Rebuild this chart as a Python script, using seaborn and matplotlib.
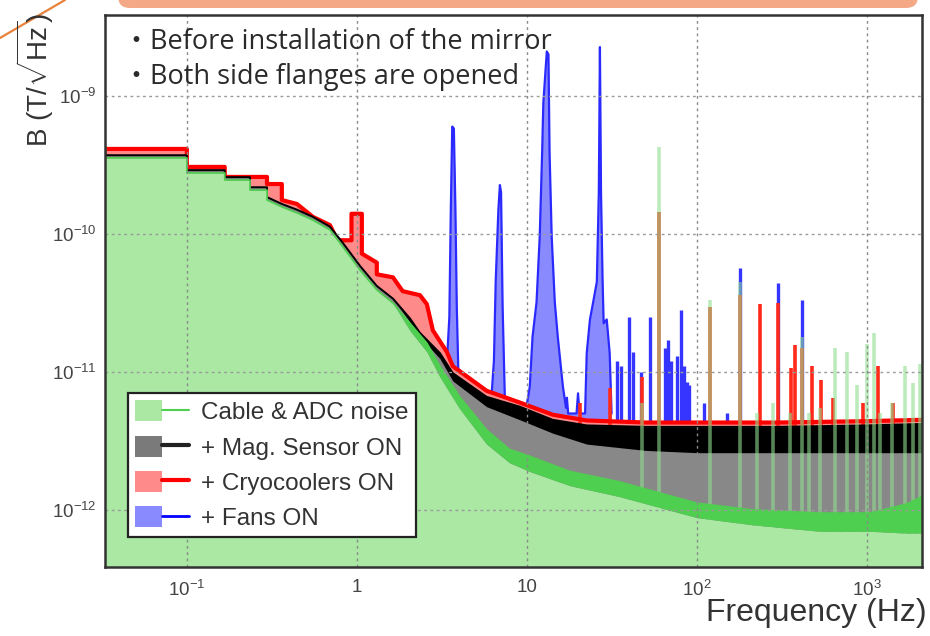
import numpy as np
import pandas as pd
import matplotlib
matplotlib.use("Agg")
import matplotlib.pyplot as plt
import seaborn as sns
from matplotlib.patches import Patch, FancyBboxPatch
from matplotlib.lines import Line2D
from matplotlib.legend_handler import HandlerTuple
from matplotlib.transforms import IdentityTransform
from matplotlib.ticker import LogLocator, NullFormatter
from matplotlib.font_manager import FontProperties

# ---------------- data ----------------
x_ticks = [0.1, 1, 10, 100, 1000]
x_tick_labels = [r"$10^{-1}$", "1", "10", r"$10^{2}$", r"$10^{3}$"]
y_ticks = [1e-12, 1e-11, 1e-10, 1e-9]
y_tick_labels = [r"$10^{-12}$", r"$10^{-11}$", r"$10^{-10}$", r"$10^{-9}$"]

series_names = ["Cable & ADC noise", "+ Mag. Sensor ON", "+ Cryocoolers ON", "+ Fans ON"]
notes = ["・Before installation of the mirror", "・Both side flanges are opened"]

# Cable & ADC noise (green)
green_f = [0.033, 0.1, 0.1, 0.167, 0.167, 0.235, 0.235, 0.296, 0.296, 0.362, 0.444, 0.551,
           0.694, 0.828, 1.04, 1.31, 1.63, 2.05, 2.58, 3.08, 4.03, 5.8, 7.9, 10.4, 17.9, 35,
           100, 213, 530, 1040, 1700, 2110]
green_top = [3.56e-10, 3.56e-10, 2.77e-10, 2.77e-10, 2.46e-10, 2.46e-10, 2.08e-10, 2.08e-10,
             1.76e-10, 1.57e-10, 1.42e-10, 1.26e-10, 1.07e-10, 8.05e-11, 5.5e-11, 3.93e-11,
             3.16e-11, 2.26e-11, 1.62e-11, 1.1e-11, 6.6e-12, 3.8e-12, 2.75e-12, 2.45e-12,
             1.9e-12, 1.6e-12, 1.12e-12, 1.0e-12, 9.5e-13, 9.5e-13, 1.1e-12, 1.25e-12]
green_low = [3.56e-10, 3.56e-10, 2.77e-10, 2.77e-10, 2.46e-10, 2.46e-10, 2.08e-10, 2.08e-10,
             1.76e-10, 1.57e-10, 1.42e-10, 1.26e-10, 1.07e-10, 8.05e-11, 5.5e-11, 3.93e-11,
             3.16e-11, 2.0e-11, 1.4e-11, 9.2e-12, 5.4e-12, 3.0e-12, 2.2e-12, 1.9e-12,
             1.5e-12, 1.25e-12, 8.8e-13, 7.8e-13, 7.0e-13, 7.0e-13, 6.8e-13, 6.8e-13]
green_spike_f = [47.5, 59.8, 119, 179, 225, 280, 352, 414, 456, 530, 650, 760, 870, 1000,
                 1100, 1195, 1400, 1680, 1860, 2050]
green_spike_h = [6e-12, 4.3e-10, 3.3e-11, 4.5e-11, 5e-12, 6e-12, 5e-12, 1.8e-11, 5e-12, 5.5e-12,
                 1.5e-11, 1.4e-11, 8e-12, 1.6e-11, 1.9e-11, 5e-12, 6e-12, 1.1e-11, 8.3e-12, 1.15e-11]

# + Mag. Sensor ON (black)
black_f = [0.033, 0.1, 0.1, 0.167, 0.167, 0.235, 0.235, 0.296, 0.296, 0.362, 0.444, 0.551,
           0.694, 0.828, 1.04, 1.31, 1.63, 2.05, 2.35, 3.08, 3.67, 5.8, 9.1, 14.2, 22.5, 50,
           100, 300, 1000, 2110]
black_top = [3.72e-10, 3.72e-10, 2.9e-10, 2.9e-10, 2.58e-10, 2.58e-10, 2.18e-10, 2.18e-10,
             1.85e-10, 1.65e-10, 1.5e-10, 1.33e-10, 1.13e-10, 8.6e-11, 5.9e-11, 4.2e-11,
             3.4e-11, 2.45e-11, 1.92e-11, 1.37e-11, 9.8e-12, 6.6e-12, 5.6e-12, 4.5e-12,
             4.1e-12, 4.0e-12, 4.0e-12, 4.0e-12, 4.1e-12, 4.2e-12]
black_low = [3.72e-10, 3.72e-10, 2.9e-10, 2.9e-10, 2.58e-10, 2.58e-10, 2.18e-10, 2.18e-10,
             1.85e-10, 1.65e-10, 1.5e-10, 1.33e-10, 1.13e-10, 8.6e-11, 5.9e-11, 4.2e-11,
             3.4e-11, 2.3e-11, 1.8e-11, 1.25e-11, 8.6e-12, 5.6e-12, 4.5e-12, 3.6e-12,
             3.0e-12, 2.7e-12, 2.6e-12, 2.6e-12, 2.6e-12, 2.6e-12]

# + Cryocoolers ON (red)
red_f = [0.033, 0.1, 0.1, 0.167, 0.167, 0.296, 0.296, 0.362, 0.362, 0.444, 0.551, 0.694,
         0.77, 0.93, 0.93, 1.07, 1.07, 1.31, 1.31, 1.63, 1.86, 2.35, 2.58, 2.8, 3.38, 3.67,
         5.8, 9.1, 14.2, 22.5, 50, 100, 300, 1000, 2110]
red_top = [4.13e-10, 4.13e-10, 3.06e-10, 3.06e-10, 2.59e-10, 2.59e-10, 2.3e-10, 2.3e-10,
           1.76e-10, 1.65e-10, 1.33e-10, 1.16e-10, 9.0e-11, 9.0e-11, 1.4e-10, 1.4e-10,
           7.2e-11, 6.2e-11, 5.1e-11, 4.85e-11, 3.85e-11, 3.6e-11, 3.1e-11, 2.0e-11, 1.4e-11,
           1.1e-11, 7.3e-12, 6.0e-12, 4.9e-12, 4.45e-12, 4.3e-12, 4.3e-12, 4.3e-12, 4.4e-12,
           4.5e-12]
red_spike_f = [20.5, 30.7, 47.5, 59.8, 119, 179, 235, 299, 360, 377, 414, 475, 538, 630, 950,
               1160, 1430]
red_spike_h = [6e-12, 7.6e-12, 9.2e-12, 1.45e-10, 2.95e-11, 3.6e-11, 3.1e-11, 3.16e-11,
               1.07e-11, 1.58e-11, 1.5e-11, 1.1e-11, 8.7e-12, 6.5e-12, 6e-12, 1.1e-11, 6e-12]

# + Fans ON (blue): broad fan peaks and narrow lines
blue_f = [3.30, 3.40, 3.50, 3.57, 3.64, 3.72, 3.80, 3.87, 3.95, 5.0, 6.2, 6.4, 6.56, 6.8,
          6.94, 7.05, 7.2, 7.42, 9.5, 10.0, 10.4, 10.8, 11.4, 11.9, 12.3, 12.5, 13.1, 13.4,
          13.6, 14.0, 14.6, 15.2, 16.3, 17.0, 17.2, 17.5, 19.6, 20.0, 20.4, 22.0, 22.5, 23.5,
          24.5, 25.8, 26.5, 26.9, 27.3, 27.9, 28.3, 29.5, 30.7, 31.5]
blue_v = [1.3e-11, 1.3e-11, 2.5e-11, 1.5e-10, 6.0e-10, 5.8e-10, 1.5e-10, 3.0e-11, 1.05e-11,
          8.3e-12, 6.8e-12, 1.2e-11, 4.6e-11, 1.5e-10, 2.26e-10, 2.0e-10, 3.0e-11, 6.5e-12,
          5.8e-12, 5.8e-12, 7.8e-12, 1.8e-11, 3.2e-11, 9.5e-11, 3.9e-10, 8.9e-10, 2.1e-9,
          2.0e-9, 3.9e-10, 9.5e-11, 3.2e-11, 1.8e-11, 7.8e-12, 5.5e-12, 6.5e-12, 5.0e-12,
          5.0e-12, 7.0e-12, 5.0e-12, 5.0e-12, 1.37e-11, 2.4e-11, 3.16e-11, 4.5e-11, 2.0e-10,
          2.26e-9, 2.0e-10, 4.5e-11, 2.25e-11, 2.4e-11, 1.37e-11, 5e-12]
blue_spike_f = [33.8, 36.0, 39.7, 42.0, 47.0, 52.8, 65.0, 67.6, 70.0, 76.0, 80.5, 84.0, 88.0,
                90.0, 110, 150, 179, 299, 414]
blue_spike_h = [1.2e-11, 1.1e-11, 2.5e-11, 1.4e-11, 1.0e-11, 2.5e-11, 1.5e-11, 1.7e-11,
                1.2e-11, 1.3e-11, 2.8e-11, 1.1e-11, 8.5e-12, 8e-12, 6e-12, 5e-12, 5.7e-11,
                4.4e-11, 3.3e-11]

# ---------------- style ----------------
sns.set_theme(style="white")
plt.rcParams["font.family"] = ["Liberation Sans", "DejaVu Sans"]
plt.rcParams["mathtext.fontset"] = "custom"
plt.rcParams["mathtext.rm"] = "Liberation Sans"
plt.rcParams["mathtext.it"] = "Liberation Sans:italic"
plt.rcParams["mathtext.bf"] = "Liberation Sans:bold"

C_GREEN_FILL, C_GREEN = "#aae8a4", "#4fcf4f"
C_GRAY, C_BLACK = "#888888", "#000000"
C_RED_FILL, C_RED = "#ff8a8a", "#ff0000"
C_BLUE_FILL, C_BLUE = "#8a8aff", "#0000ff"

XMIN, XMAX = 0.033, 2110
YMIN, YMAX = 3.86e-13, 3.86e-9

fig = plt.figure(figsize=(9.3, 6.36), dpi=100)
fig.patch.set_facecolor("white")
ax = fig.add_axes([105 / 930, 1 - 567 / 636, (922 - 105) / 930, (567 - 15) / 636])
ax.set_xscale("log")
ax.set_yscale("log")
ax.set_facecolor("white")

def line(xs, ys, color, lw, z, alpha=1.0):
    df = pd.DataFrame({"f": xs, "v": ys})
    sns.lineplot(data=df, x="f", y="v", ax=ax, estimator=None, sort=False,
                 color=color, lw=lw, zorder=z, alpha=alpha, legend=False)

# blue (fans)
ax.fill_between(blue_f, YMIN, blue_v, color=C_BLUE_FILL, lw=0, zorder=1)
line(blue_f, blue_v, "#2a2aff", 1.6, 1.1)
ax.vlines(blue_spike_f, YMIN, blue_spike_h, color="#3535ff", lw=2.4, zorder=1.2)

# red (cryocoolers)
ax.fill_between(red_f, YMIN, red_top, color=C_RED_FILL, lw=0, zorder=2)
ax.vlines(red_spike_f, YMIN, red_spike_h, color="#ff2a1a", lw=2.6, zorder=2.2)
line(red_f, red_top, C_RED, 3.0, 2.3)
line([red_f[0], red_f[0]], [YMIN, red_top[0]], "#b8602e", 3.0, 2.4)

# black (mag sensor)
ax.fill_between(black_f, YMIN, black_top, color=C_GRAY, lw=0, zorder=3)
ax.fill_between(black_f, black_low, black_top, color=C_BLACK, lw=0, zorder=3.1)
line(black_f, black_top, C_BLACK, 1.4, 3.2)

# green (cable & ADC)
ax.vlines(green_spike_f, YMIN, green_spike_h, color="#8fdf8f", lw=2.6, alpha=0.6, zorder=3.5)
ax.fill_between(green_f, YMIN, green_low, color=C_GREEN_FILL, lw=0, zorder=4)
ax.fill_between(green_f, green_low, green_top, color=C_GREEN, lw=0, zorder=4.1)
line(green_f, green_top, C_GREEN, 1.2, 4.2)

ax.set_xlim(XMIN, XMAX)
ax.set_ylim(YMIN, YMAX)
ax.set_xlabel("")
ax.set_ylabel("")

# grid on top (ROOT style)
for xv in x_ticks:
    ax.axvline(xv, color="#8a8a8a", lw=1.0, ls=(0, (2, 2.5)), zorder=5)
for yv in y_ticks:
    ax.axhline(yv, color="#9a9a9a", lw=1.0, ls=(0, (2, 2.5)), zorder=5)

ax.set_xticks(x_ticks)
ax.set_xticklabels(x_tick_labels)
ax.set_yticks(y_ticks)
ax.set_yticklabels(y_tick_labels)
ax.xaxis.set_minor_locator(LogLocator(base=10, subs=np.arange(2, 10), numticks=20))
ax.yaxis.set_minor_locator(LogLocator(base=10, subs=np.arange(2, 10), numticks=20))
ax.xaxis.set_minor_formatter(NullFormatter())
ax.yaxis.set_minor_formatter(NullFormatter())
ax.tick_params(which="both", direction="in", top=False, right=False, color="#333333",
               labelcolor="#444444")
ax.tick_params(which="major", length=12, width=1.2, labelsize=13.5)
ax.tick_params(which="minor", length=6, width=1.0)
ax.tick_params(axis="x", which="major", pad=9)
ax.tick_params(axis="y", which="major", pad=6)
ax.xaxis.set_zorder(6)
ax.yaxis.set_zorder(6)
for sp in ax.spines.values():
    sp.set_visible(True)
    sp.set_color("#333333")
    sp.set_linewidth(1.8)
    sp.set_zorder(6)

# legend
handles = [
    (Patch(facecolor=C_GREEN_FILL, edgecolor="none"), Line2D([], [], color=C_GREEN, lw=1.5)),
    (Patch(facecolor="#7a7a7a", edgecolor="none"), Line2D([], [], color="#222222", lw=3)),
    (Patch(facecolor=C_RED_FILL, edgecolor="none"), Line2D([], [], color=C_RED, lw=3)),
    (Patch(facecolor=C_BLUE_FILL, edgecolor="none"), Line2D([], [], color=C_BLUE, lw=2)),
]
leg = ax.legend(handles, series_names, handler_map={tuple: HandlerTuple(ndivide=None, pad=0)},
                loc="upper left", bbox_to_anchor=(0.028, 0.315), borderaxespad=0,
                frameon=True, fancybox=False, framealpha=1, edgecolor="#222222",
                prop=FontProperties(family="Liberation Sans", size=17.5), labelcolor="#333333",
                handlelength=2.2, handleheight=0.95, handletextpad=0.5, borderpad=0.3,
                labelspacing=0.47)
leg.get_frame().set_linewidth(1.6)
leg.set_zorder(7)

# notes
for i, yy in enumerate([42, 77]):
    ax.text(0.022, 1 - (yy - 15) / 552, notes[i], transform=ax.transAxes, ha="left",
            va="center", fontsize=19.5, color="#2a2a2a",
            family=["Open Sans", "Noto Sans CJK JP"], zorder=7)

# axis titles
fig.text(35 / 930, 1 - 80 / 636, r"B (T/$\sqrt{\mathrm{Hz}}$)", rotation=90, ha="center",
         va="center", fontsize=20, color="#333333")
fig.text(927 / 930, 1 - 613 / 636, "Frequency (Hz)", ha="right", va="center", fontsize=23,
         color="#333333")

# slide decorations (orange banner and diagonal stroke)
banner = FancyBboxPatch((118, 636 - 8), 800, 40, boxstyle="round,pad=0,rounding_size=12",
                        transform=IdentityTransform(), facecolor="#f4a886", edgecolor="none")
fig.patches.append(banner)
fig.add_artist(Line2D([0, 65], [636 - 38, 636], transform=IdentityTransform(),
                      color="#e8823a", lw=1.6))

fig.savefig("out.png", dpi=100)
